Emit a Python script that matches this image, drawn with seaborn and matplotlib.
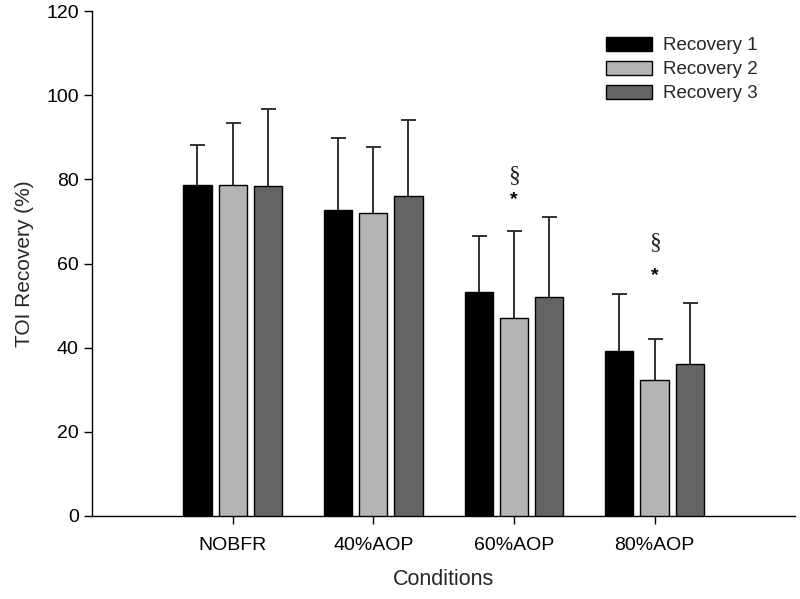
import matplotlib
matplotlib.use('Agg')
import matplotlib.pyplot as plt
import numpy as np
import pandas as pd
import seaborn as sns

# Values
categories = ['NOBFR', '40%AOP', '60%AOP', '80%AOP']
series = ['Recovery 1', 'Recovery 2', 'Recovery 3']
rec1 = [78.7, 72.7, 53.3, 39.3]
rec2 = [78.6, 72.0, 47.1, 32.2]
rec3 = [78.3, 76.0, 52.0, 36.0]
sd1 = [9.4, 17.2, 13.3, 13.5]
sd2 = [14.7, 15.6, 20.7, 9.9]
sd3 = [18.5, 18.2, 19.1, 14.7]
colors = ['#000000', '#b4b4b4', '#646464']

# Significance marks: (category, series index, label, y)
marks = [
    ('60%AOP', 1, '\u00a7', 81.0),
    ('60%AOP', 1, '*', 75.2),
    ('80%AOP', 1, '\u00a7', 65.0),
    ('80%AOP', 1, '*', 57.2),
]

sds = [sd1, sd2, sd3]

df = pd.DataFrame({
    'Condition': categories * 3,
    'Recovery': np.repeat(series, len(categories)),
    'Value': rec1 + rec2 + rec3,
})

sns.set_style('ticks')
plt.rcParams['font.family'] = ['Liberation Sans', 'DejaVu Sans']

fig = plt.figure(figsize=(8, 5.99), dpi=100)
ax = fig.add_axes([0.115, 0.1386, 0.879, 0.843])

sns.barplot(data=df, x='Condition', y='Value', hue='Recovery',
            order=categories, hue_order=series, palette=colors,
            width=0.75, gap=0.2, edgecolor='black', linewidth=1.0,
            errorbar=None, ax=ax, legend=True, zorder=3)

# One-sided (upper) error bars
for cont, sd in zip(ax.containers, sds):
    xs = [p.get_x() + p.get_width() / 2 for p in cont.patches]
    ys = [p.get_height() for p in cont.patches]
    eb = ax.errorbar(xs, ys, yerr=[np.zeros(len(sd)), sd], fmt='none',
                     ecolor='#222222', elinewidth=1.3, capsize=5.4,
                     capthick=1.3, zorder=2)
    # drop the cap that would sit on the bar top
    eb[1][0].set_visible(False)

for cat, si, label, y in marks:
    p = ax.containers[si].patches[categories.index(cat)]
    x = p.get_x() + p.get_width() / 2
    if label == '*':
        ax.text(x, y, label, ha='center', va='center', fontsize=14,
                fontweight='bold', color='black')
    else:
        ax.text(x, y, label, ha='center', va='center', fontsize=17,
                family='Liberation Serif', color='#222222')

ax.set_xlim(-1, 4)
ax.set_ylim(0, 120)
ax.set_yticks(range(0, 121, 20))
ax.set_xlabel('Conditions', fontsize=15.5, labelpad=11)
ax.set_ylabel('TOI Recovery (%)', fontsize=15, labelpad=9)
ax.tick_params(axis='both', labelsize=14, length=6, width=1,
               colors='black', direction='out')
ax.tick_params(axis='x', pad=9)
for s in ['left', 'bottom']:
    ax.spines[s].set_linewidth(1.0)
    ax.spines[s].set_color('black')
sns.despine(ax=ax)

leg = ax.legend(loc='upper left', bbox_to_anchor=(606 / 800, 1 - 37 / 599),
                bbox_transform=fig.transFigure, frameon=False, fontsize=13.5,
                handlelength=2.45, handleheight=0.75, labelspacing=0.35,
                handletextpad=0.6, borderpad=0, borderaxespad=0)
for h in leg.legend_handles:
    h.set_edgecolor('black')
    h.set_linewidth(1.0)

fig.savefig('out.png', dpi=100)
